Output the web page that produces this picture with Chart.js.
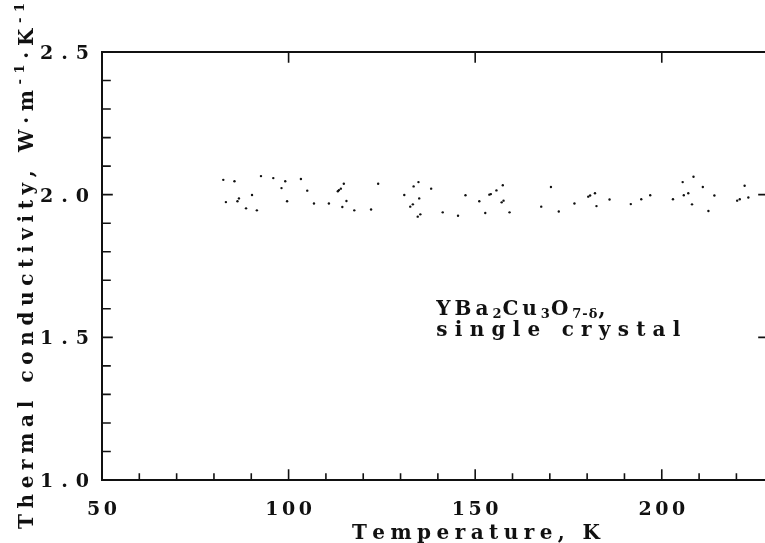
<!DOCTYPE html>
<html>
<head>
<meta charset="utf-8">
<script src="https://cdn.jsdelivr.net/npm/chart.js@4.4.1/dist/chart.umd.min.js"></script>
<style>
  html, body { margin: 0; padding: 0; overflow: hidden; background: #fff; }
  canvas { display: block; }
</style>
</head>
<body>
<canvas id="chart" width="780" height="543"></canvas>
<script>
// temperature (K) and thermal conductivity (W/m/K)
const tempK = [
  82.5, 83.2, 85.5, 86.3, 86.7, 88.6, 90.2, 91.5, 92.6, 95.9,
  98.1, 99.1, 99.6, 103.3, 105.0, 106.8, 110.8, 113.2, 113.5, 114.0,
  114.4, 114.8, 115.5, 117.6, 122.1, 124.0, 131.0, 132.6, 133.3, 133.5,
  134.6, 134.8, 135.0, 135.3, 138.2, 141.3, 145.4, 147.4, 151.1, 152.7,
  153.8, 154.2, 155.7, 157.1, 157.4, 157.6, 159.2, 167.7, 170.3, 172.4,
  176.6, 180.3, 180.8, 182.1, 182.5, 186.0, 191.7, 194.5, 196.9, 203.0,
  205.6, 205.9, 207.1, 208.1, 208.5, 211.0, 212.5, 214.1, 220.2, 220.9,
  222.2, 223.2,
];
const kappa = [
  2.052, 1.974, 2.047, 1.977, 1.987, 1.952, 1.999, 1.945, 2.065, 2.058,
  2.023, 2.047, 1.977, 2.055, 2.014, 1.969, 1.969, 2.012, 2.016, 2.021,
  1.957, 2.038, 1.978, 1.945, 1.948, 2.038, 1.999, 1.958, 1.966, 2.029,
  1.923, 2.044, 1.987, 1.931, 2.021, 1.938, 1.926, 1.998, 1.977, 1.936,
  2.000, 2.002, 2.015, 1.973, 2.033, 1.979, 1.938, 1.958, 2.027, 1.941,
  1.969, 1.993, 1.997, 2.005, 1.960, 1.983, 1.967, 1.984, 1.998, 1.984,
  2.044, 1.998, 2.005, 1.966, 2.063, 2.027, 1.943, 1.997, 1.979, 1.984,
  2.031, 1.990,
];

const xMajorTicks = [50, 100, 150, 200];
const xTickLabels = ["50", "100", "150", "200"];
const xMinorTicks = [60, 70, 80, 90, 110, 120, 130, 140, 160, 170, 180, 190, 210, 220];
const yMajorTicks = [1.0, 1.5, 2.0, 2.5];
const yTickLabels = ["1.0", "1.5", "2.0", "2.5"];
const yMinorTicks = [1.1, 1.2, 1.3, 1.4, 1.6, 1.7, 1.8, 1.9, 2.1, 2.2, 2.3, 2.4];

const xTitle = "Temperature, K";
const yTitleParts = ["Thermal conductivity, W\u00b7m", "-1", "\u00b7K", "-1"];
const noteLine1 = [["YBa", 0], ["2", 1], ["Cu", 0], ["3", 1], ["O", 0], ["7-\u03b4", 1], [",", 0]];
const noteLine2 = "single crystal";
const noteAt = { x: 139.6, y: 1.577 };

const FONT = '"DejaVu Serif", serif';
const INK = "#111";
const big = "bold 20px " + FONT;
const small = "bold 13px " + FONT;

function natWidth(ctx, text) {
  let w = 0;
  for (const ch of text) w += ctx.measureText(ch).width;
  return w;
}

function drawSpaced(ctx, text, x, y, sp) {
  for (const ch of text) {
    ctx.fillText(ch, x, y);
    x += ctx.measureText(ch).width + sp;
  }
  return x;
}

function fitSpacing(ctx, text, target) {
  const n = [...text].length;
  return n > 1 ? (target - natWidth(ctx, text)) / (n - 1) : 0;
}

const framePlugin = {
  id: "frame",
  afterDatasetsDraw(chart) {
    const { ctx, chartArea: a, scales } = chart;
    const sx = scales.x;
    const sy = scales.y;
    ctx.save();
    ctx.strokeStyle = INK;
    ctx.fillStyle = INK;
    ctx.lineCap = "square";

    // frame
    ctx.lineWidth = 2;
    ctx.strokeRect(a.left, a.top, a.right - a.left, a.bottom - a.top);

    // inward ticks
    ctx.lineWidth = 1.6;
    ctx.beginPath();
    xMajorTicks.forEach((v) => {
      const px = sx.getPixelForValue(v);
      ctx.moveTo(px, a.bottom); ctx.lineTo(px, a.bottom - 10);
      ctx.moveTo(px, a.top); ctx.lineTo(px, a.top + 10);
    });
    xMinorTicks.forEach((v) => {
      const px = sx.getPixelForValue(v);
      ctx.moveTo(px, a.bottom); ctx.lineTo(px, a.bottom - 6);
    });
    yMajorTicks.forEach((v) => {
      const py = sy.getPixelForValue(v);
      ctx.moveTo(a.left, py); ctx.lineTo(a.left + 10, py);
      ctx.moveTo(a.right, py); ctx.lineTo(a.right - 11, py);
    });
    yMinorTicks.forEach((v) => {
      const py = sy.getPixelForValue(v);
      ctx.moveTo(a.left, py); ctx.lineTo(a.left + 8, py);
    });
    ctx.stroke();

    ctx.textBaseline = "alphabetic";
    ctx.textAlign = "left";
    ctx.font = "bold 19px " + FONT;

    // x tick labels
    xTickLabels.forEach((lab, i) => {
      const px = sx.getPixelForValue(xMajorTicks[i]);
      const sp = 3.5;
      const w = natWidth(ctx, lab) + sp * (lab.length - 1);
      drawSpaced(ctx, lab, px - w / 2, a.bottom + 35, sp);
    });

    // y tick labels
    yTickLabels.forEach((lab, i) => {
      const py = sy.getPixelForValue(yMajorTicks[i]);
      const sp = fitSpacing(ctx, lab, 49);
      drawSpaced(ctx, lab, 40, py + 7, sp);
    });

    // x title
    ctx.font = big;
    const xsp = fitSpacing(ctx, xTitle, 248);
    drawSpaced(ctx, xTitle, 352, 539, xsp);

    // y title, rotated, with superscripts
    ctx.save();
    ctx.translate(33, 529);
    ctx.rotate(-Math.PI / 2);
    let nat = 0, gaps = 0;
    yTitleParts.forEach((p, i) => {
      ctx.font = i % 2 ? small : big;
      nat += natWidth(ctx, p);
      gaps += [...p].length;
    });
    const ysp = (526 - nat) / (gaps - 1);
    let tx = 0;
    yTitleParts.forEach((p, i) => {
      ctx.font = i % 2 ? small : big;
      tx = drawSpaced(ctx, p, tx, i % 2 ? -9 : 0, ysp);
    });
    ctx.restore();

    // annotation
    const nx = sx.getPixelForValue(noteAt.x);
    const ny = sy.getPixelForValue(noteAt.y);
    ctx.font = big;
    const nsp = fitSpacing(ctx, noteLine2, 244);
    drawSpaced(ctx, noteLine2, nx, ny + 21, nsp);
    // line 1: fit main-glyph spacing so the line spans ~169px
    let mainNat = 0, mainCount = 0, subW = 0;
    noteLine1.forEach(([txt, sub]) => {
      ctx.font = sub ? small : big;
      if (sub) subW += natWidth(ctx, txt) + 1 * [...txt].length;
      else { mainNat += natWidth(ctx, txt); mainCount += [...txt].length; }
    });
    const s1 = Math.max(2, (169 - mainNat - subW) / (mainCount - 1));
    let lx = nx;
    noteLine1.forEach(([txt, sub]) => {
      ctx.font = sub ? small : big;
      lx = drawSpaced(ctx, txt, lx, sub ? ny + 3 : ny, sub ? 1 : s1);
    });

    ctx.restore();
  },
};

const points = tempK.map((t, i) => ({ x: t, y: kappa[i] }));

new Chart(document.getElementById("chart"), {
  type: "scatter",
  data: {
    datasets: [
      {
        data: points,
        pointRadius: 1.2,
        pointHoverRadius: 1.2,
        backgroundColor: INK,
        borderWidth: 0,
      },
    ],
  },
  options: {
    responsive: false,
    animation: false,
    events: [],
    layout: { padding: { left: 102, top: 52, right: 10, bottom: 63 } },
    plugins: { legend: { display: false }, tooltip: { enabled: false } },
    scales: {
      x: { type: "linear", min: 50, max: 229, display: false },
      y: { type: "linear", min: 1.0, max: 2.5, display: false },
    },
  },
  plugins: [framePlugin],
});
</script>
</body>
</html>
